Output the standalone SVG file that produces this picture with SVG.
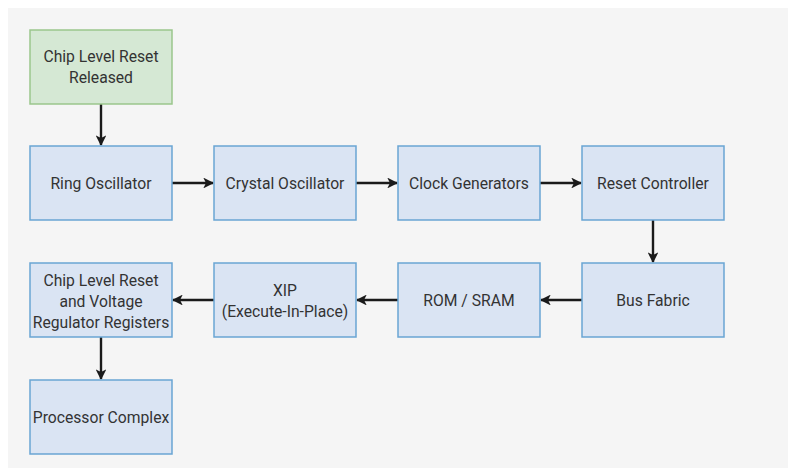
<svg xmlns="http://www.w3.org/2000/svg" width="788" height="468" viewBox="0 0 788 468">
<style>
.b{fill:#dae4f3;stroke:#69a5d3;stroke-width:1.5}
.g{fill:#d5e8d4;stroke:#9ac68c;stroke-width:1.5}
text{font-family:Roboto,"Liberation Sans",sans-serif;font-size:15.7px;fill:#333;text-anchor:middle}
.c{stroke:#1a1a1a;stroke-width:2.4;fill:none;marker-end:url(#ah)}
</style>
<defs>
<marker id="ah" viewBox="0 0 10 10" refX="9" refY="5" markerWidth="4.5" markerHeight="4.5" markerUnits="strokeWidth" orient="auto">
<path d="M0,0 L10,5 L0,10 L2.5,5 Z" fill="#1a1a1a"/>
</marker>
</defs>
<rect x="8" y="8" width="780" height="460" fill="#f5f5f5"/>
<g id="connectors">
<line class="c" x1="101" y1="104" x2="101" y2="145"/>
<line class="c" x1="172" y1="183" x2="213" y2="183"/>
<line class="c" x1="356" y1="183" x2="397" y2="183"/>
<line class="c" x1="540" y1="183" x2="581" y2="183"/>
<line class="c" x1="653" y1="220" x2="653" y2="262"/>
<line class="c" x1="582" y1="300" x2="541" y2="300"/>
<line class="c" x1="398" y1="300" x2="357" y2="300"/>
<line class="c" x1="214" y1="300" x2="173" y2="300"/>
<line class="c" x1="101" y1="337" x2="101" y2="379"/>
</g>
<g id="n-start"><rect class="g" x="30" y="30" width="142" height="74"/><text x="101" y="62">Chip Level Reset</text><text x="101" y="83">Released</text></g>
<g id="n-ring"><rect class="b" x="30" y="146" width="142" height="74"/><text x="101" y="189">Ring Oscillator</text></g>
<g id="n-crystal"><rect class="b" x="214" y="146" width="142" height="74"/><text x="285" y="189">Crystal Oscillator</text></g>
<g id="n-clock"><rect class="b" x="398" y="146" width="142" height="74"/><text x="469" y="189">Clock Generators</text></g>
<g id="n-reset"><rect class="b" x="582" y="146" width="142" height="74"/><text x="653" y="189">Reset Controller</text></g>
<g id="n-bus"><rect class="b" x="582" y="263" width="142" height="74"/><text x="653" y="306">Bus Fabric</text></g>
<g id="n-rom"><rect class="b" x="398" y="263" width="142" height="74"/><text x="469" y="306">ROM / SRAM</text></g>
<g id="n-xip"><rect class="b" x="214" y="263" width="142" height="74"/><text x="285" y="295.5">XIP</text><text x="285" y="317">(Execute-In-Place)</text></g>
<g id="n-regs"><rect class="b" x="30" y="263" width="142" height="74"/><text x="101" y="285.5">Chip Level Reset</text><text x="101" y="306.5">and Voltage</text><text x="101" y="327.5">Regulator Registers</text></g>
<g id="n-proc"><rect class="b" x="30" y="380" width="142" height="74"/><text x="101" y="423">Processor Complex</text></g>
</svg>
